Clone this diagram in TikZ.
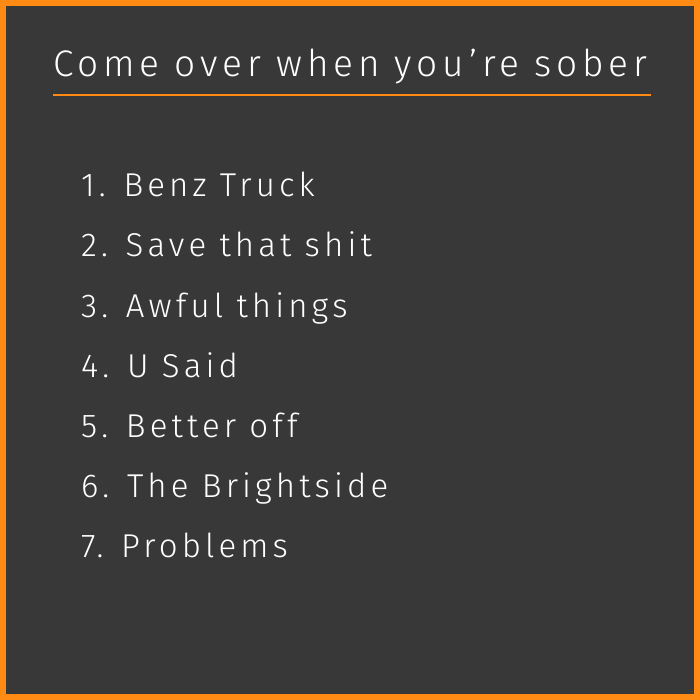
\documentclass[tikz,border=0pt]{standalone}
\usepackage{fontspec}
\setmainfont{Fira Sans Light}
\newfontfamily\titlefont[LetterSpace=13]{Fira Sans Light}
\newfontfamily\itemfont[LetterSpace=12.5]{Fira Sans Light}
\definecolor{bg}{HTML}{383838}
\definecolor{accent}{HTML}{FF8A14}
\tikzset{
  titletext/.style={anchor=base west, inner sep=0pt, text=white, font=\titlefont\fontsize{37}{40}\selectfont},
  itemtext/.style={anchor=base west, inner sep=0pt, text=white, font=\itemfont\fontsize{33}{36}\selectfont},
}
\begin{document}
\begin{tikzpicture}[x=1pt,y=1pt]
\useasboundingbox (0,0) rectangle (700,-700);
\fill[accent] (0,0) rectangle (700,-700);
\fill[bg] (6,-6) rectangle (694,-694);
\node[titletext] (title) at (53,-77) {Come over when you’re sober};
\coordinate (ul) at (53,-95);
\coordinate (ur) at (651,-95);
\draw[accent, line width=2pt] (ul) -- (ur);
\node[itemtext] (i1) at (81,-197) {1. Benz Truck};
\node[itemtext] (i2) at (81,-257) {2. Save that shit};
\node[itemtext] (i3) at (81,-317) {3. Awful things};
\node[itemtext] (i4) at (81,-377) {4. U Said};
\node[itemtext] (i5) at (81,-437) {5. Better off};
\node[itemtext] (i6) at (81,-497) {6. The Brightside};
\node[itemtext] (i7) at (81,-557) {7. Problems};
\end{tikzpicture}
\end{document}
